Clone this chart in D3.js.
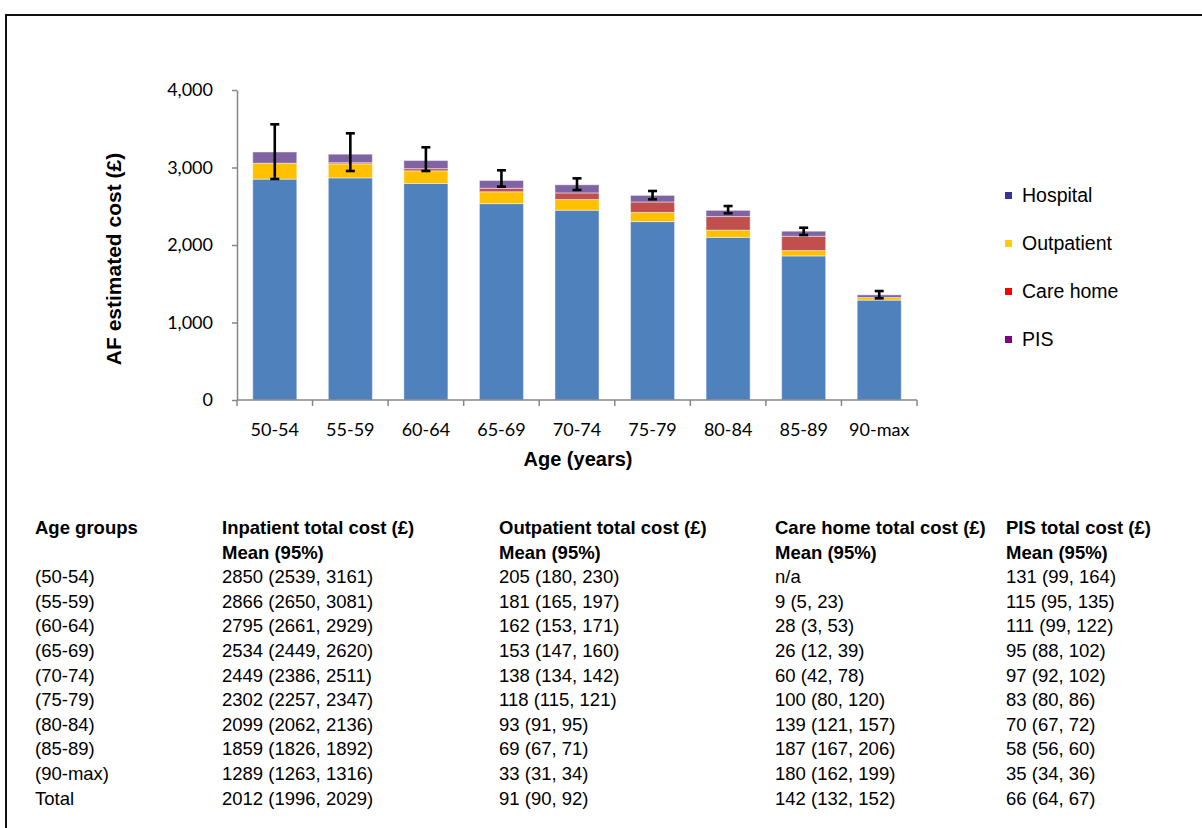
<!DOCTYPE html>
<html>
<head>
<meta charset="utf-8">
<script src="https://cdn.jsdelivr.net/npm/d3@7"></script>
<style>
  body { margin: 0; background: #fff; }
  svg { display: block; }
</style>
</head>
<body>
<div id="chart"></div>
<script>
// Age groups on the x axis
const ageGroups = ["50-54", "55-59", "60-64", "65-69", "70-74", "75-79", "80-84", "85-89", "90-max"];

// Stacked series
const hospital   = [2850, 2866, 2795, 2534, 2449, 2302, 2099, 1859, 1289];
const outpatient = [205, 181, 162, 153, 138, 118, 93, 69, 33];
const careHome   = [0, 15, 28, 45, 85, 135, 175, 185, 0];
const pis        = [145, 110, 105, 100, 105, 85, 80, 65, 35];

// Error bar ends
const errLow  = [2852, 2955, 2955, 2753, 2710, 2590, 2409, 2129, 1312];
const errHigh = [3557, 3441, 3261, 2964, 2860, 2697, 2503, 2223, 1406];

const yTicks = [0, 1000, 2000, 3000, 4000];

// Legend
const legendNames  = ["Hospital", "Outpatient", "Care home", "PIS"];
const legendColors = ["#333399", "#FFCC00", "#FF0000", "#800080"];

// Table below the chart
const tableHeader1 = ["Age groups", "Inpatient total cost (£)", "Outpatient total cost (£)", "Care home total cost (£)", "PIS total cost (£)"];
const tableHeader2 = ["", "Mean (95%)", "Mean (95%)", "Mean (95%)", "Mean (95%)"];
const tableAges = ["(50-54)", "(55-59)", "(60-64)", "(65-69)", "(70-74)", "(75-79)", "(80-84)", "(85-89)", "(90-max)", "Total"];
const tableInpatient = ["2850 (2539, 3161)", "2866 (2650, 3081)", "2795 (2661, 2929)", "2534 (2449, 2620)", "2449 (2386, 2511)", "2302 (2257, 2347)", "2099 (2062, 2136)", "1859 (1826, 1892)", "1289 (1263, 1316)", "2012 (1996, 2029)"];
const tableOutpatient = ["205 (180, 230)", "181 (165, 197)", "162 (153, 171)", "153 (147, 160)", "138 (134, 142)", "118 (115, 121)", "93 (91, 95)", "69 (67, 71)", "33 (31, 34)", "91 (90, 92)"];
const tableCareHome = ["n/a", "9 (5, 23)", "28 (3, 53)", "26 (12, 39)", "60 (42, 78)", "100 (80, 120)", "139 (121, 157)", "187 (167, 206)", "180 (162, 199)", "142 (132, 152)"];
const tablePis = ["131 (99, 164)", "115 (95, 135)", "111 (99, 122)", "95 (88, 102)", "97 (92, 102)", "83 (80, 86)", "70 (67, 72)", "58 (56, 60)", "35 (34, 36)", "66 (64, 67)"];

const W = 1202, H = 828;
const svg = d3.select("#chart").append("svg")
    .attr("width", W)
    .attr("height", H);

// outer frame (only top and left edges show)
svg.append("path")
    .attr("d", `M6,${H + 5} L6,15 L${W + 5},15`)
    .attr("fill", "none")
    .attr("stroke", "#111")
    .attr("stroke-width", 2);

// scales
const x = d3.scaleBand()
    .domain(ageGroups)
    .range([237, 917])
    .paddingInner(0.417)
    .paddingOuter(0.2085);

const y = d3.scaleLinear()
    .domain([0, 4000])
    .range([400, 90]);

// stack the four series
const rows = ageGroups.map((a, i) => ({
    age: a, hospital: hospital[i], outpatient: outpatient[i], care: careHome[i], pis: pis[i]
}));
const keys = ["hospital", "outpatient", "care", "pis"];
const barColors = { hospital: "#4F81BD", outpatient: "#FFC000", care: "#C0504D", pis: "#8064A2" };
const stacked = d3.stack().keys(keys)(rows);

svg.append("g")
    .selectAll("g")
    .data(stacked)
    .join("g")
    .attr("fill", d => barColors[d.key])
    .selectAll("rect")
    .data(d => d)
    .join("rect")
    .attr("x", d => x(d.data.age))
    .attr("y", d => y(d[1]))
    .attr("width", x.bandwidth())
    .attr("height", d => y(d[0]) - y(d[1]))
    .attr("stroke", "#ffffff")
    .attr("stroke-opacity", 0.45)
    .attr("stroke-width", 1);

// y axis
const yAxis = svg.append("g")
    .attr("transform", "translate(237,0)")
    .call(d3.axisLeft(y).tickValues(yTicks).tickFormat(d3.format(",")).tickSize(5).tickPadding(19).tickSizeOuter(0));
yAxis.select(".domain").attr("stroke", "#868686").attr("stroke-width", 1.5);
yAxis.selectAll(".tick line").attr("stroke", "#868686").attr("stroke-width", 1.5);
yAxis.selectAll(".tick text")
    .attr("fill", "#000")
    .attr("font-family", "Lato, sans-serif")
    .attr("font-size", "18px");

// x axis: ticks sit between the categories
const xAxis = svg.append("g").attr("transform", "translate(0,400)");
xAxis.append("line")
    .attr("x1", 237).attr("x2", 917)
    .attr("stroke", "#868686").attr("stroke-width", 1.5);
xAxis.selectAll(".sep")
    .data(d3.range(ageGroups.length + 1))
    .join("line")
    .attr("class", "sep")
    .attr("x1", i => 237 + i * x.step())
    .attr("x2", i => 237 + i * x.step())
    .attr("y1", 0).attr("y2", 6)
    .attr("stroke", "#868686").attr("stroke-width", 1.5);
xAxis.selectAll(".lbl")
    .data(ageGroups)
    .join("text")
    .attr("class", "lbl")
    .attr("x", d => x(d) + x.bandwidth() / 2)
    .attr("y", 36)
    .attr("text-anchor", "middle")
    .attr("font-family", "Lato, sans-serif")
    .attr("font-size", "18px")
    .text(d => d);

// error bars
const errG = svg.append("g").attr("stroke", "#000").attr("stroke-width", 2.6);
ageGroups.forEach((a, i) => {
    const cx = x(a) + x.bandwidth() / 2;
    errG.append("line").attr("x1", cx).attr("x2", cx).attr("y1", y(errLow[i])).attr("y2", y(errHigh[i]));
    errG.append("line").attr("x1", cx - 4.5).attr("x2", cx + 4.5).attr("y1", y(errLow[i])).attr("y2", y(errLow[i]));
    errG.append("line").attr("x1", cx - 4.5).attr("x2", cx + 4.5).attr("y1", y(errHigh[i])).attr("y2", y(errHigh[i]));
});

// axis titles
svg.append("text")
    .attr("transform", "translate(121,259) rotate(-90)")
    .attr("text-anchor", "middle")
    .attr("font-family", "Liberation Sans, Arial, sans-serif")
    .attr("font-weight", "bold")
    .attr("font-size", "21px")
    .text("AF estimated cost (£)");

svg.append("text")
    .attr("x", 578)
    .attr("y", 466)
    .attr("text-anchor", "middle")
    .attr("font-family", "Liberation Sans, Arial, sans-serif")
    .attr("font-weight", "bold")
    .attr("font-size", "20px")
    .text("Age (years)");

// legend
const legend = svg.append("g").attr("transform", "translate(1005,195)");
legendNames.forEach((name, i) => {
    legend.append("rect")
        .attr("x", 0).attr("y", i * 48 - 3)
        .attr("width", 7).attr("height", 7)
        .attr("fill", legendColors[i]);
    legend.append("text")
        .attr("x", 17).attr("y", i * 48 + 7)
        .attr("font-family", "Liberation Sans, Arial, sans-serif")
        .attr("font-size", "19.5px")
        .text(name);
});

// table
const colX = [35, 222, 499, 775, 1006];
const rowY0 = 534, rowStep = 24.6;
const table = svg.append("g")
    .attr("font-family", "Liberation Sans, Arial, sans-serif")
    .attr("font-size", "18.5px")
    .attr("fill", "#000");

[tableHeader1, tableHeader2].forEach((hdr, r) => {
    hdr.forEach((t, c) => {
        table.append("text")
            .attr("x", colX[c]).attr("y", rowY0 + r * rowStep)
            .attr("font-weight", "bold")
            .text(t);
    });
});

const columns = [tableAges, tableInpatient, tableOutpatient, tableCareHome, tablePis];
tableAges.forEach((a, r) => {
    columns.forEach((col, c) => {
        if (!col[r]) return;
        table.append("text")
            .attr("x", colX[c]).attr("y", rowY0 + (r + 2) * rowStep)
            .text(col[r]);
    });
});
</script>
</body>
</html>
